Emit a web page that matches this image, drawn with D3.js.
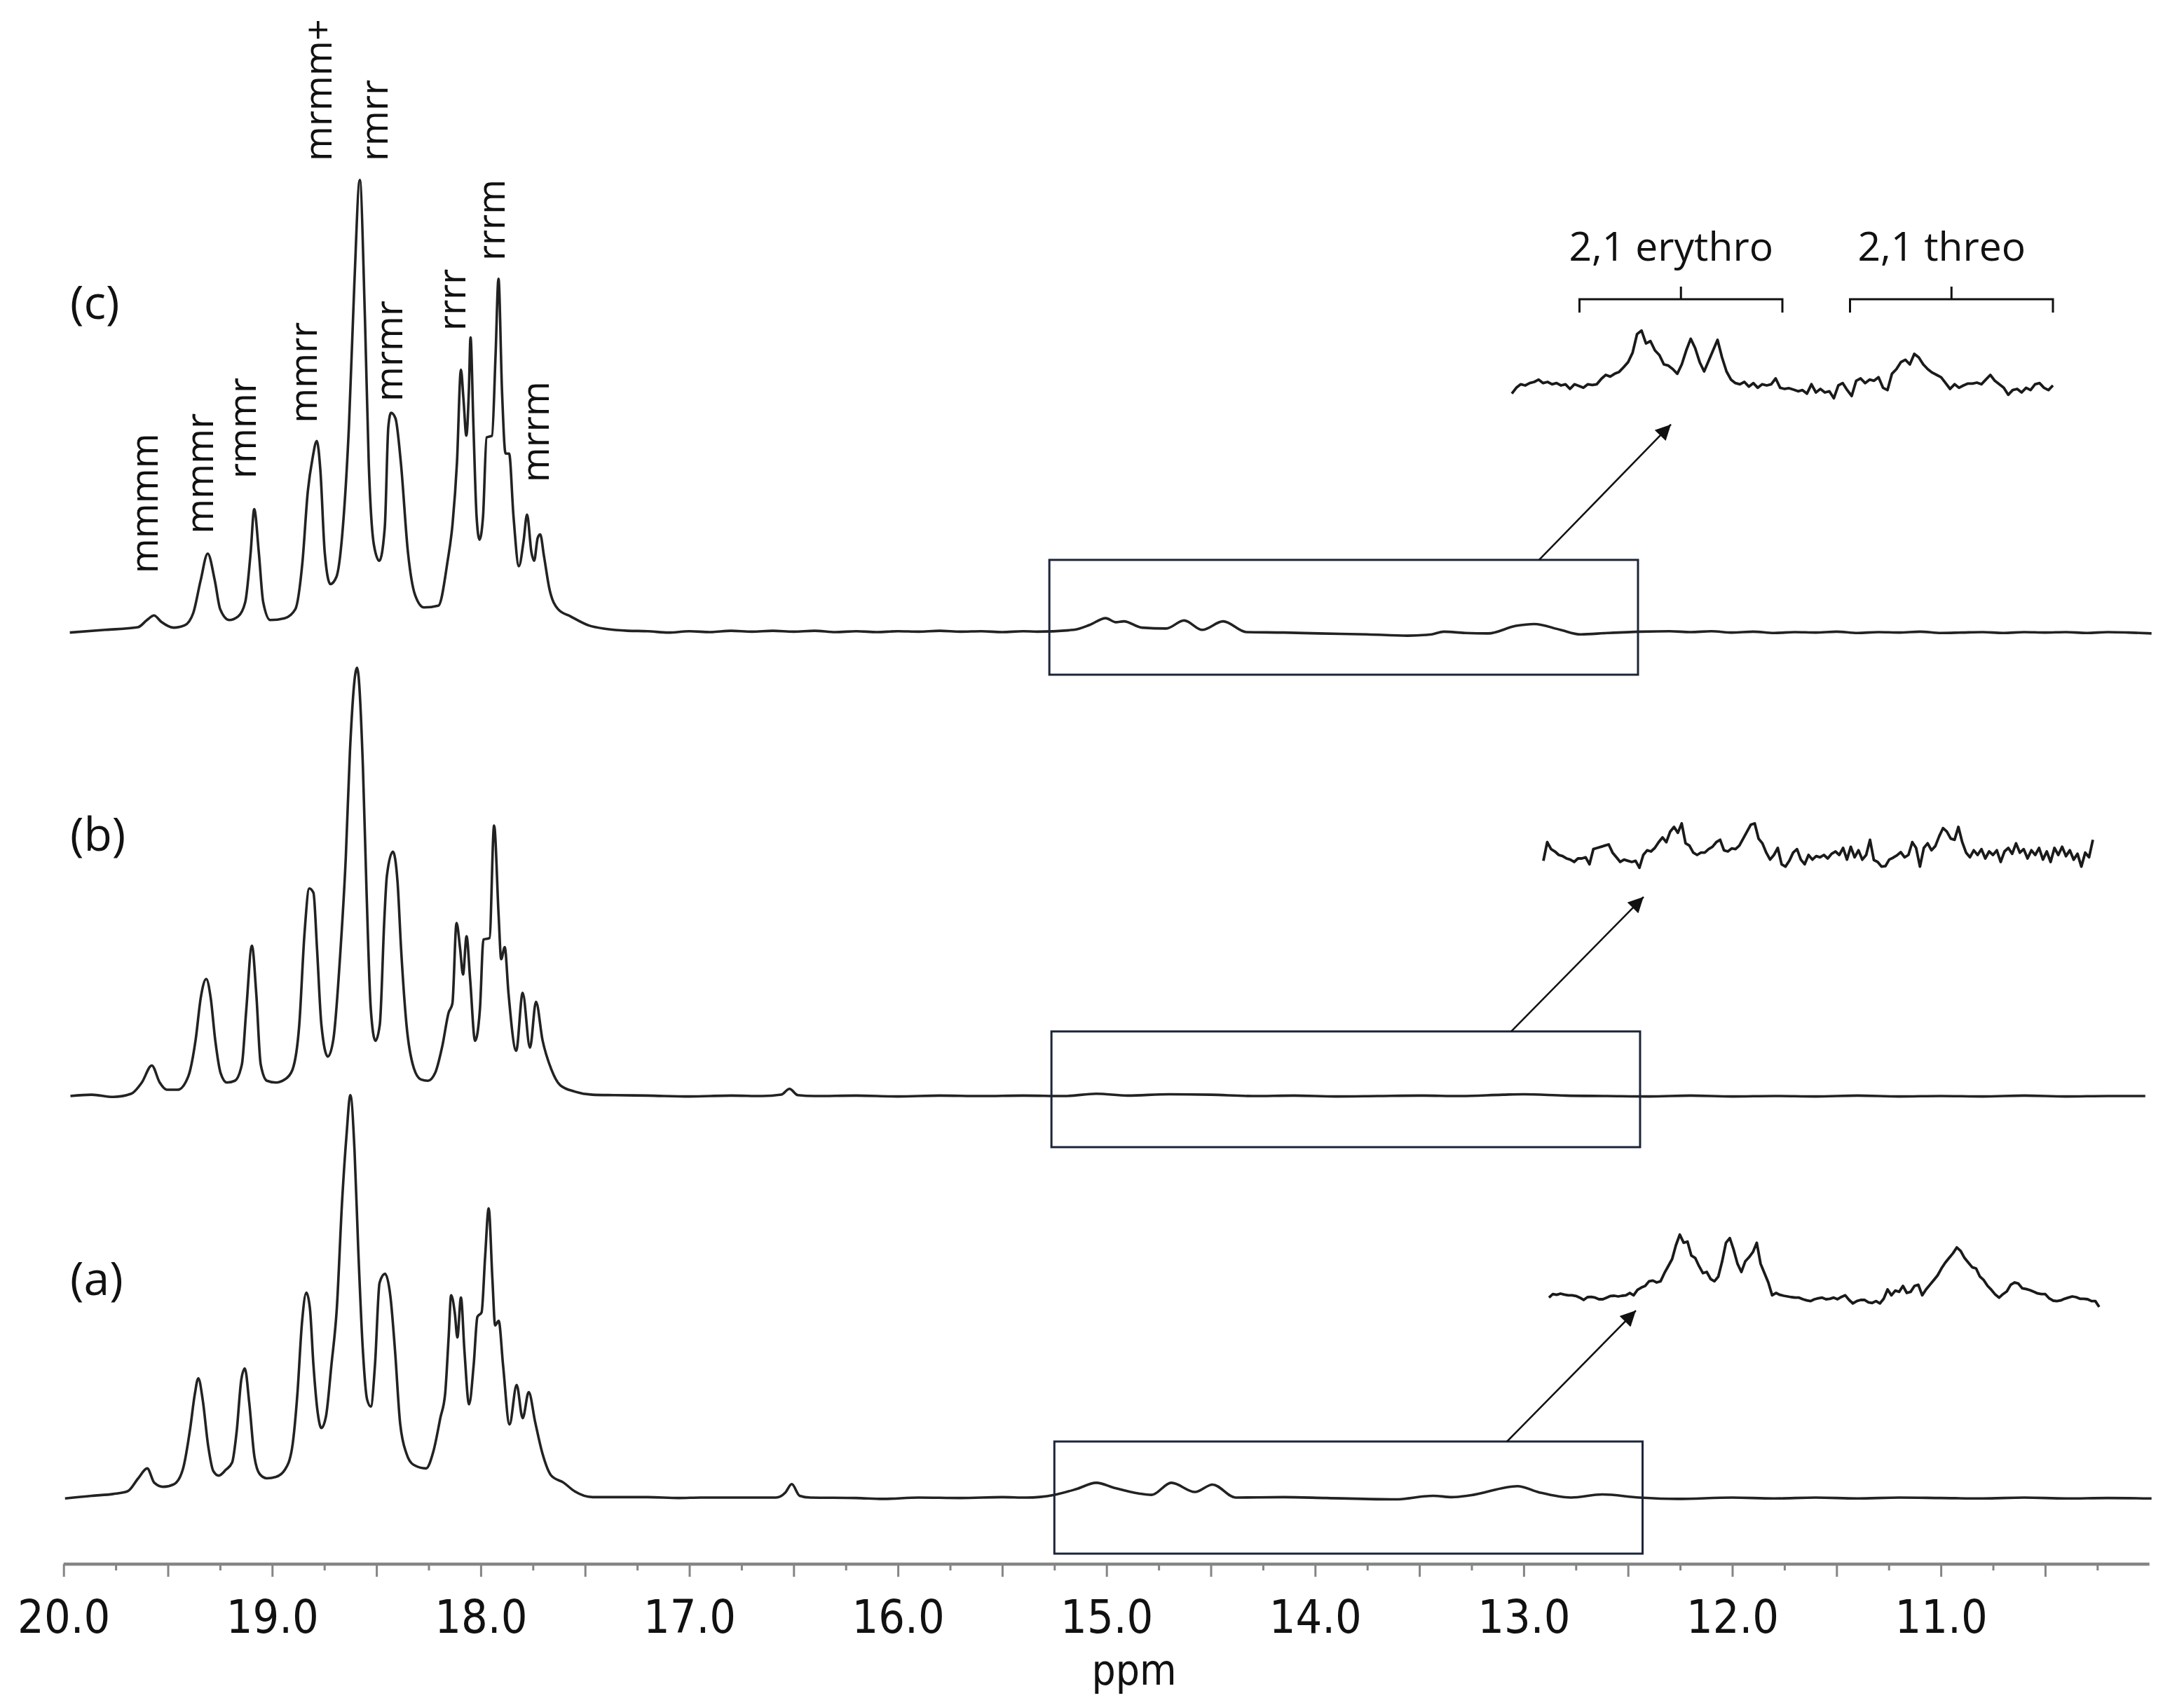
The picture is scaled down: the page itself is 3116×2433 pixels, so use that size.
<!DOCTYPE html>
<html>
<head>
<meta charset="utf-8">
<script src="https://cdn.jsdelivr.net/npm/d3@7"></script>
<style>
  body { margin: 0; background: #fff; }
  svg { display: block; }
</style>
</head>
<body>
<div id="chart"></div>
<script>
//////////////////////////////////////////////////////////////
///////////////////////// Data ///////////////////////////////
//////////////////////////////////////////////////////////////

// main spectra: [ppm, intensity], intensity 100 = tallest peak of (c)
var specC = [
  [19.97,-0.1],[19.80,0.5],[19.643,1.1],[19.600,2.7],[19.566,3.7],[19.532,2.3],[19.472,1.0],[19.420,1.5],
  [19.378,4.3],[19.343,11.5],[19.309,17.5],[19.275,11.5],[19.249,5.1],[19.206,2.7],[19.163,3.5],[19.129,6.7],
  [19.103,17.8],[19.086,27.4],[19.064,17.8],[19.043,6.7],[19.009,2.7],[18.940,3.1],[18.889,5.1],[18.855,15.5],
  [18.829,31.4],[18.807,38.6],[18.786,42.6],[18.769,36.2],[18.748,17.8],[18.721,10.7],[18.692,12.3],[18.657,25.8],
  [18.632,45.8],[18.606,77.6],[18.580,100.8],[18.555,69.7],[18.537,37.8],[18.512,19.4],[18.486,15.9],[18.460,23.4],
  [18.443,45.8],[18.430,48.9],[18.409,47.7],[18.383,37.8],[18.349,17.8],[18.315,8.3],[18.272,5.5],[18.203,5.9],
  [18.160,15.5],[18.135,24.2],[18.114,37.8],[18.095,58.5],[18.083,52.1],[18.069,43.8],[18.057,53.7],[18.049,65.7],
  [18.035,45.8],[18.020,25.8],[18.006,20.6],[17.989,25.8],[17.972,43.4],[17.946,43.8],[17.929,61.7],[17.915,78.8],
  [17.898,53.7],[17.881,39.8],[17.864,39.8],[17.843,25.8],[17.817,14.7],[17.795,20.2],[17.778,26.2],[17.757,17.8],
  [17.744,15.9],[17.727,21.0],[17.715,21.8],[17.697,17.0],[17.672,9.9],[17.629,5.1],[17.569,3.5],[17.483,1.5],
  [17.398,0.7],[17.295,0.3],[17.2,0.2],[17.1,-0.1],[17.0,0.2],[16.9,0],[16.8,0.3],[16.7,0.1],[16.6,0.3],[16.5,0.1],
  [16.4,0.3],[16.3,0],[16.2,0.2],[16.1,0],[16.0,0.2],[15.9,0.1],[15.8,0.3],[15.7,0.1],[15.6,0.2],[15.5,0],[15.4,0.2],
  [15.332,0.1],[15.158,0.5],[15.081,1.6],[15.004,3.1],[14.955,2.2],[14.917,2.4],[14.83,1.0],[14.714,0.8],[14.628,2.6],
  [14.541,0.5],[14.441,2.4],[14.329,0],[14.15,-0.1],[13.982,-0.3],[13.75,-0.5],[13.557,-0.8],[13.441,-0.5],[13.383,0.1],
  [13.28,-0.2],[13.171,-0.3],[13.037,1.4],[12.949,1.8],[12.824,0.5],[12.727,-0.5],[12.6,-0.2],[12.438,0.1],[12.3,0.2],
  [12.2,0],[12.1,0.2],[12.0,-0.1],[11.9,0.1],[11.8,-0.2],[11.7,0],[11.6,-0.1],[11.5,0.1],[11.4,-0.2],[11.3,0],
  [11.2,-0.1],[11.1,0.1],[11.0,-0.2],[10.9,-0.1],[10.8,0],[10.7,-0.2],[10.6,0],[10.5,-0.1],[10.4,0],[10.3,-0.2],
  [10.2,0],[10.1,-0.1],[9.99,-0.3]
];

var specB = [
  [19.967,0],[19.865,0.3],[19.762,-0.2],[19.676,0.5],[19.625,3.0],[19.577,6.8],[19.539,3.0],[19.505,1.4],[19.453,1.4],
  [19.402,4.4],[19.367,12.5],[19.342,22.0],[19.316,26.1],[19.295,22.0],[19.273,12.5],[19.247,5.1],[19.217,3.0],
  [19.179,3.4],[19.145,7.1],[19.124,19.3],[19.097,33.5],[19.076,22.7],[19.055,7.1],[19.025,3.4],[18.982,3.0],
  [18.939,3.7],[18.904,5.7],[18.870,15.9],[18.845,36.2],[18.822,46.3],[18.802,45.3],[18.785,32.9],[18.764,15.9],
  [18.733,8.8],[18.707,12.5],[18.673,32.1],[18.647,53.2],[18.627,76.9],[18.593,95.5],[18.565,73.5],[18.548,46.4],
  [18.527,19.3],[18.505,12.3],[18.484,15.9],[18.462,39.6],[18.450,49.1],[18.421,54.5],[18.399,47.8],[18.382,32.9],
  [18.356,15.9],[18.322,6.4],[18.287,3.7],[18.253,3.4],[18.219,5.1],[18.184,11.2],[18.154,18.6],[18.136,20.6],
  [18.116,38.6],[18.099,32.9],[18.085,27.1],[18.068,35.6],[18.051,26.1],[18.027,12.3],[18.004,19.3],[17.987,34.9],
  [17.958,35.2],[17.936,60.3],[17.914,40.0],[17.902,30.5],[17.885,33.2],[17.867,22.9],[17.830,10.1],[17.799,23.0],
  [17.764,10.8],[17.735,21.0],[17.704,12.5],[17.662,6.0],[17.619,2.4],[17.550,1.0],[17.465,0.3],[17.361,0.2],
  [17.2,0.1],[17.0,-0.1],[16.8,0.1],[16.65,0],[16.56,0.3],[16.52,1.6],[16.48,0.2],[16.4,0],[16.2,0.1],[16.0,-0.1],
  [15.8,0.1],[15.6,0],[15.4,0.1],[15.2,0],[15.05,0.5],[14.9,0.1],[14.7,0.4],[14.5,0.3],[14.3,0],[14.1,0.1],
  [13.9,-0.1],[13.7,0],[13.5,0.1],[13.3,0],[13.1,0.3],[13.0,0.4],[12.8,0.1],[12.6,0],[12.4,-0.1],[12.2,0.1],
  [12.0,-0.1],[11.8,0],[11.6,-0.1],[11.4,0.1],[11.2,-0.1],[11.0,0],[10.8,-0.1],[10.6,0.1],[10.4,-0.1],[10.2,0],[10.02,0]
];

var specA = [
  [19.993,-0.2],[19.865,0.4],[19.762,0.8],[19.693,1.4],[19.642,4.3],[19.599,6.5],[19.565,3.3],[19.522,2.4],[19.470,3.0],
  [19.427,6.5],[19.393,15.4],[19.371,23.0],[19.354,26.6],[19.333,21.8],[19.307,11.6],[19.282,5.9],[19.256,4.9],
  [19.222,6.2],[19.192,7.8],[19.170,14.8],[19.148,26.3],[19.131,28.8],[19.110,21.2],[19.085,9.1],[19.059,5.2],
  [19.025,4.3],[18.982,4.6],[18.939,6.2],[18.905,10.9],[18.879,23.1],[18.857,39.0],[18.836,45.7],[18.819,42.2],
  [18.802,29.5],[18.781,18.7],[18.764,15.5],[18.742,18.1],[18.716,29.5],[18.690,42.2],[18.665,65.8],[18.644,80.5],
  [18.625,89.7],[18.605,77.3],[18.587,55.0],[18.565,32.7],[18.545,21.9],[18.527,20.3],[18.507,29.6],[18.485,47.9],
  [18.459,49.9],[18.433,44.8],[18.411,32.8],[18.387,16.8],[18.356,9.8],[18.322,7.3],[18.262,6.5],[18.227,10.3],
  [18.193,17.9],[18.171,23.0],[18.154,35.7],[18.142,45.1],[18.124,41.0],[18.112,35.7],[18.095,44.6],[18.078,32.6],
  [18.056,20.8],[18.034,29.5],[18.016,40.3],[17.996,41.3],[17.979,53.7],[17.962,64.5],[17.944,48.6],[17.931,38.4],
  [17.914,39.4],[17.893,29.5],[17.862,16.3],[17.828,25.1],[17.799,17.7],[17.770,23.5],[17.739,16.8],[17.704,9.8],
  [17.662,4.9],[17.602,3.3],[17.550,1.4],[17.464,0.1],[17.361,0.1],[17.2,0.1],[17.05,-0.1],[16.945,0],[16.7,0],
  [16.585,0],[16.540,1.1],[16.509,3.0],[16.471,0.4],[16.42,0],[16.2,-0.1],[16.074,-0.3],[15.9,0],[15.7,-0.1],
  [15.5,0.1],[15.385,0],[15.251,0.6],[15.144,1.9],[15.049,3.3],[14.965,2.2],[14.844,0.9],[14.784,0.6],[14.689,3.3],
  [14.576,1.25],[14.492,2.9],[14.381,0],[14.15,0.1],[13.945,-0.1],[13.615,-0.4],[13.434,0.4],[13.345,0.1],[13.255,0.5],
  [13.030,2.55],[12.925,1.15],[12.774,0],[12.623,0.7],[12.445,0],[12.264,-0.3],[12.0,0],[11.8,-0.2],[11.6,0],
  [11.4,-0.2],[11.2,0],[11.0,-0.1],[10.8,-0.2],[10.6,0],[10.4,-0.2],[10.2,-0.1],[9.99,-0.2]
];

// expanded insets: intensity samples, evenly spaced from 16.0 to 12.0 ppm
var insetC = [
  -3.5,-1,0.5,0,1,1.5,2.5,1,1.5,0.5,1,0,0.5,-1.5,0.5,-0.2,-1,0.5,0.2,0.5,2.8,4.5,3.8,5,5.8,7.8,10,14,22,23.5,
  18,19,15,13,9,8.5,7,5,9,15,20,16,10,6,10.5,15,19.5,12,6,2.5,1,0.5,1.5,-0.5,1,-1,0.5,0,0.5,3,
  -1,-1.5,-1.2,-1.8,-2.5,-2,-3.5,0.5,-3,-1.5,-3,-2.5,-5.5,0,1,-2,-4.5,2,3,1,2.5,2,3.5,-1,-2,5,7,10,11,9,
  13.5,12,9,7,5.5,4.5,3.5,1,-1.5,0.5,-1,0,0.8,0.8,1.2,0.5,2.5,4.5,2,0.5,-1,-4,-2,-1.5,-3,-1,-2,0.5,1,-1,-2,0
];

var insetB = [
  -2.5,5.5,2.5,1.5,0,-0.5,-1.5,-2,-3,-1.5,-1.5,-1,-4,2.5,3,3.5,4,4.5,1,-1,-3,-2,-2.5,-3,-2.5,-5.5,0,2,1.5,3,
  5.5,7.5,5.5,10,12,9.5,13.5,5,4,1,0,1,1,2.5,3.5,5.5,6.5,2,1.5,2.8,2.5,4,7,10,13,13.5,7,5,1,-2,
  0,3,-4,-5,-2.5,1,2.5,-2,-4,0,-2,-0.5,-1,0,-1.5,0.5,1.5,0,3,-2,3.5,-1,2,-2,0,6.5,-2.2,-3,-5,-4.8,
  -2,-1.2,-0.2,1.2,-1,0,5.5,3,-5,3,5,2,3.8,8,11.5,10,7,6.5,12,5.5,1,-1,2,0,2.5,-1.5,1.5,0,2,-3,
  1.5,3,0.5,5,1,2.5,-1.5,2,0,3,-2,1.5,-3,3,0,3.5,-0.5,2,-2,0.5,-5,1,-1,6.5
];

var insetA = [
  -0.5,1,0.7,1.2,0.8,0.5,0.5,0.2,-0.5,-1.5,-0.3,-0.2,-0.5,-1.2,-1.2,-0.5,0.2,0.3,0,0.3,0.5,1.5,0.5,2.8,3.8,4.5,6.5,6.8,6,6.5,
  10,13,16,22,26.5,23,23.5,17.5,16.5,13,10,10.5,7.5,6.5,8.5,15,23,25,20,14,10.5,15,16.8,19,23,14,10,6,0.5,1.5,
  0.7,0.3,0,-0.3,-0.5,-0.5,-1.2,-1.7,-2,-1.2,-0.8,-0.5,-1.2,-1,-0.5,-1.2,-0.2,0.5,-1.5,-3,-2,-1.5,-1.5,-2.5,-2.8,-2,-3,-1,3,0.5,
  2.5,2,4.5,1.5,2,4.5,5,0.5,3,5,7,9,12,14.5,16.5,18.5,21,19.5,16.5,14.5,12.5,12,8.5,7,4.5,2.8,0.8,-0.5,1,2.2,
  5,6,5.5,3.5,3.2,2.7,2,1.3,1,1,-0.8,-1.8,-2,-1.7,-1,-0.5,0,-0.3,-1,-1,-1.2,-2,-2,-4.5
];

// pentad assignments on spectrum (c): [label, ppm, level]
var peakLabels = [
  ["mmmm", 19.549, 13.1],
  ["mmmr", 19.283, 21.9],
  ["rmmr", 19.078, 34.2],
  ["mmrr", 18.786, 46.6],
  ["mrmm+", 18.715, 105.0],
  ["rmrr", 18.446, 105.0],
  ["mrmr", 18.376, 51.4],
  ["rrrr", 18.074, 67.2],
  ["rrrm", 17.886, 82.8],
  ["mrrm", 17.674, 33.4]
];

// regio-defect brackets over the (c) inset (inset ppm)
var bracketLabels = ["2,1 erythro", "2,1 threo"];
var bracketFrom = [15.5, 13.5];
var bracketTo = [14.0, 12.0];

var tickPpm = [20, 19, 18, 17, 16, 15, 14, 13, 12, 11];

//////////////////////////////////////////////////////////////
/////////////////////// Layout ///////////////////////////////
//////////////////////////////////////////////////////////////

var width = 3116, height = 2433;
var axisY = 2232;
var unitPx = 6.4;       // px per intensity unit, main spectra
var insetUnitPx = 3.33; // px per intensity unit, insets

var panels = [
  {name: "(c)", data: specC, base: 902, labelY: 455,
   box: [15.274, 12.452, 16.1, -9.5], arrow: [[12.926, 16.1], [12.294, 46.3]],
   inset: {data: insetC, x0: 2157, x1: 2929, base: 550}},
  {name: "(b)", data: specB, base: 1564, labelY: 1214,
   box: [15.264, 12.442, 14.4, -11.4], arrow: [[13.06, 14.4], [12.425, 44.4]],
   inset: {data: insetB, x0: 2202, x1: 2986, base: 1220}},
  {name: "(a)", data: specA, base: 2137, labelY: 1848,
   box: [15.25, 12.43, 12.5, -12.5], arrow: [[13.08, 12.5], [12.462, 41.7]],
   inset: {data: insetA, x0: 2210, x1: 2995, base: 1850}}
];

var labelFont = "'Open Sans', 'DejaVu Sans', sans-serif";
var axisFont = "'DejaVu Sans Condensed', 'DejaVu Sans', sans-serif";

//////////////////////////////////////////////////////////////
/////////////////////// Scales ///////////////////////////////
//////////////////////////////////////////////////////////////

var xScale = d3.scaleLinear().domain([20, 10]).range([90.7, 3066.7]);

var svg = d3.select("#chart").append("svg")
    .attr("width", width)
    .attr("height", height)
    .style("background", "#fff");

svg.append("defs").append("marker")
    .attr("id", "arrowHead")
    .attr("viewBox", "0 0 10 10")
    .attr("refX", 10)
    .attr("refY", 5)
    .attr("markerUnits", "userSpaceOnUse")
    .attr("markerWidth", 30)
    .attr("markerHeight", 22)
    .attr("orient", "auto")
    .append("path")
        .attr("d", "M0,0L10,5L0,10Z")
        .attr("fill", "#111");

//////////////////////////////////////////////////////////////
/////////////////////// Panels ///////////////////////////////
//////////////////////////////////////////////////////////////

panels.forEach(function(p) {
    var yScale = d3.scaleLinear().domain([0, 100]).range([p.base, p.base - 100 * unitPx]);

    var line = d3.line()
        .x(function(d) { return xScale(d[0]); })
        .y(function(d) { return yScale(d[1]); })
        .curve(d3.curveMonotoneX);

    var g = svg.append("g").attr("class", "panel");

    //spectrum trace
    g.append("path")
        .datum(p.data)
        .attr("d", line)
        .attr("fill", "none")
        .attr("stroke", "#222")
        .attr("stroke-width", 3.6)
        .attr("stroke-linejoin", "round");

    //panel label
    g.append("text")
        .attr("x", 100)
        .attr("y", p.labelY)
        .style("font-family", labelFont)
        .style("font-size", "66px")
        .style("fill", "#111")
        .text(p.name);

    //zoom box
    g.append("rect")
        .attr("x", xScale(p.box[0]))
        .attr("y", yScale(p.box[2]))
        .attr("width", xScale(p.box[1]) - xScale(p.box[0]))
        .attr("height", yScale(p.box[3]) - yScale(p.box[2]))
        .attr("fill", "none")
        .attr("stroke", "#1c2538")
        .attr("stroke-width", 3);

    //arrow to expansion
    g.append("line")
        .attr("x1", xScale(p.arrow[0][0]))
        .attr("y1", yScale(p.arrow[0][1]))
        .attr("x2", xScale(p.arrow[1][0]))
        .attr("y2", yScale(p.arrow[1][1]))
        .attr("stroke", "#111")
        .attr("stroke-width", 2.5)
        .attr("marker-end", "url(#arrowHead)");

    //expanded inset
    var ins = p.inset;
    var xInset = d3.scaleLinear().domain([16, 12]).range([ins.x0, ins.x1]);
    var idxPpm = d3.scaleLinear().domain([0, ins.data.length - 1]).range([16, 12]);
    var yInset = d3.scaleLinear().domain([0, 10]).range([ins.base, ins.base - 10 * insetUnitPx]);

    var insetLine = d3.line()
        .x(function(d, i) { return xInset(idxPpm(i)); })
        .y(function(d) { return yInset(d); });

    g.append("path")
        .datum(ins.data)
        .attr("d", insetLine)
        .attr("fill", "none")
        .attr("stroke", "#1a1a1a")
        .attr("stroke-width", 3.8)
        .attr("stroke-linejoin", "round");

    //annotations only on (c)
    if (p.name === "(c)") {
        g.selectAll(".peakLabel")
            .data(peakLabels).enter()
            .append("text")
                .attr("class", "peakLabel")
                .attr("transform", function(d) {
                    return "translate(" + xScale(d[1]) + "," + yScale(d[2]) + ") rotate(-90)";
                })
                .style("font-family", labelFont)
                .style("font-size", "54px")
                .style("fill", "#111")
                .text(function(d) { return d[0]; });

        var bracketY = ins.base - 123;
        bracketLabels.forEach(function(lab, i) {
            var xa = xInset(bracketFrom[i]), xb = xInset(bracketTo[i]);
            var xm = (xa + xb) / 2;
            g.append("path")
                .attr("d", "M" + xa + "," + (bracketY + 19) + "V" + bracketY + "H" + xb + "V" + (bracketY + 19) +
                           "M" + xm + "," + bracketY + "V" + (bracketY - 18))
                .attr("fill", "none")
                .attr("stroke", "#111")
                .attr("stroke-width", 3);
            g.append("text")
                .attr("x", xm - 14)
                .attr("y", bracketY - 55)
                .attr("text-anchor", "middle")
                .style("font-family", labelFont)
                .style("font-size", "57px")
                .style("fill", "#111")
                .text(lab);
        });
    }
});

//////////////////////////////////////////////////////////////
/////////////////////// Axis /////////////////////////////////
//////////////////////////////////////////////////////////////

//quarter-ppm ticks from 20.0 down to 10.25
var allTicks = d3.range(0, 40).map(function(k) { return 20 - k * 0.25; });

var xAxis = d3.axisBottom(xScale)
    .tickValues(allTicks)
    .tickSizeOuter(0)
    .tickFormat(function(d) {
        return tickPpm.indexOf(d) >= 0 ? d3.format(".1f")(d) : "";
    });

var gAxis = svg.append("g")
    .attr("class", "x axis")
    .attr("transform", "translate(0," + axisY + ")")
    .call(xAxis);

gAxis.select(".domain")
    .attr("d", "M" + xScale(20) + ",0H" + xScale(10))
    .attr("stroke", "#858585")
    .attr("stroke-width", 4.5);

gAxis.selectAll(".tick line")
    .attr("stroke", "#858585")
    .attr("stroke-width", 3)
    .attr("y2", function(d) { return (d * 2) % 1 === 0 ? 18 : 9; });

//only integer ticks carry a label
gAxis.selectAll(".tick text")
    .filter(function(d) { return tickPpm.indexOf(d) < 0; })
    .remove();

gAxis.selectAll(".tick text")
    .attr("y", 98)
    .attr("dy", 0)
    .style("font-family", axisFont)
    .style("font-size", "66px")
    .style("fill", "#111");

svg.append("text")
    .attr("x", 1618)
    .attr("y", 2404)
    .attr("text-anchor", "middle")
    .style("font-family", axisFont)
    .style("font-size", "60px")
    .style("fill", "#111")
    .text("ppm");
</script>
</body>
</html>
